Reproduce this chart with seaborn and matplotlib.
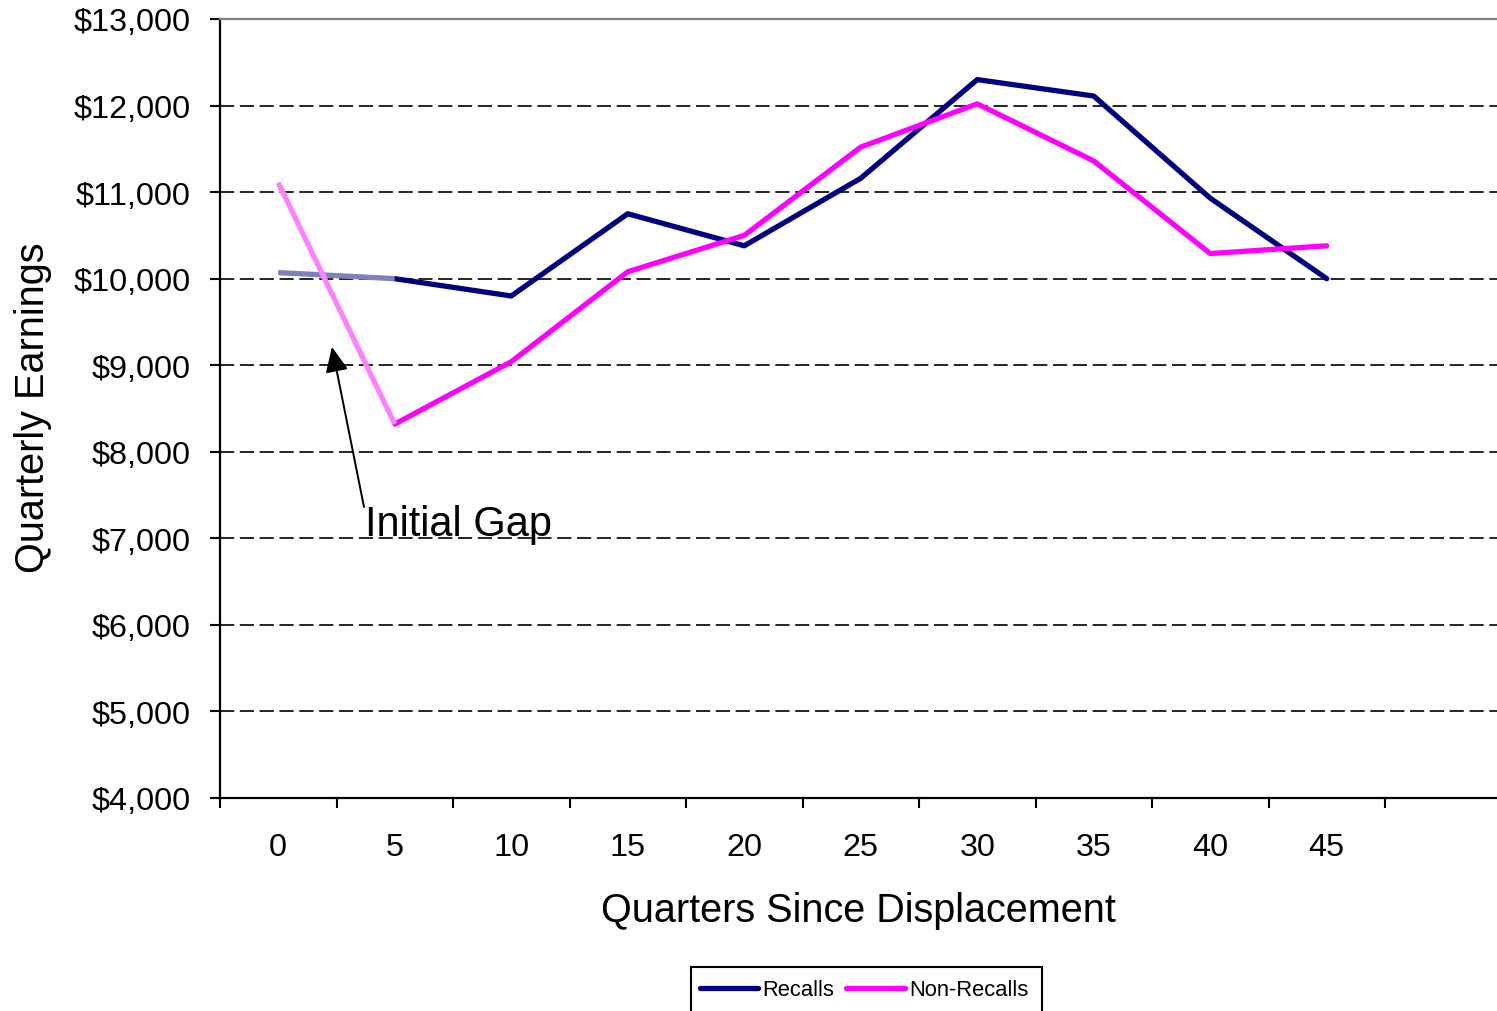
import numpy as np
import pandas as pd
import matplotlib
matplotlib.use("Agg")
import matplotlib.pyplot as plt
from matplotlib.patches import Rectangle
from matplotlib.ticker import FixedLocator, FuncFormatter
from matplotlib.transforms import Bbox, TransformedBbox
import seaborn as sns

# Quarterly earnings by quarters since displacement
quarters = [0, 5, 10, 15, 20, 25, 30, 35, 40, 45]
recalls = [10070, 10000, 9800, 10750, 10380, 11160, 12300, 12110, 10930, 10000]
non_recalls = [11110, 8320, 9040, 10080, 10500, 11520, 12020, 11360, 10290, 10380]
series_names = ["Recalls", "Non-Recalls"]
y_ticks = [4000, 5000, 6000, 7000, 8000, 9000, 10000, 11000, 12000, 13000]

dark = {"Recalls": "#000080", "Non-Recalls": "#FF00FF"}
light = {"Recalls": "#8080C0", "Non-Recalls": "#FF80FF"}

sns.set_style("white")
plt.rcParams["font.family"] = ["Liberation Sans", "DejaVu Sans"]
plt.rcParams["text.color"] = "black"
plt.rcParams["axes.labelcolor"] = "black"
plt.rcParams["xtick.color"] = "black"
plt.rcParams["ytick.color"] = "black"

pos = np.arange(len(quarters))
df = pd.DataFrame({
    "pos": np.concatenate([pos, pos]),
    "earnings": recalls + non_recalls,
    "group": ["Recalls"] * len(recalls) + ["Non-Recalls"] * len(non_recalls),
})

fig = plt.figure(figsize=(14.97, 10.12), dpi=100)
ax = fig.add_axes([220 / 1497, 1 - 799 / 1012, 1 - 220 / 1497, (799 - 20) / 1012])

LW = 3.8

# main lines from the second point on
sns.lineplot(data=df[df["pos"] >= 1], x="pos", y="earnings", hue="group",
             hue_order=series_names, palette=dark, linewidth=LW, ax=ax,
             sort=False, legend=True)
for ln in ax.get_lines():
    ln.set_solid_joinstyle("round")
    ln.set_solid_capstyle("round")

# first segment drawn in a lighter tint
for name, vals in zip(series_names, [recalls, non_recalls]):
    ax.plot(pos[:2], vals[:2], color=light[name], linewidth=LW,
            solid_capstyle="butt", zorder=2.2 if name == "Recalls" else 2.3)

handles, labels = ax.get_legend_handles_labels()
ax.get_legend().remove()

ax.set_xlim(-0.5, -0.5 + 1277 / 116.5)
ax.set_ylim(4000, 13000)

# x axis: labels at category centres, tick marks between categories
ax.xaxis.set_major_locator(FixedLocator(pos))
ax.set_xticklabels([str(q) for q in quarters])
ax.xaxis.set_minor_locator(FixedLocator(np.arange(len(quarters) + 1) - 0.5))
ax.tick_params(axis="x", which="major", length=0, pad=24.5, labelsize=23.3,
               labelcolor="black")
ax.tick_params(axis="x", which="minor", length=7.2, width=1.5, direction="out",
               color="black", bottom=True)

ax.yaxis.set_major_locator(FixedLocator(y_ticks))
ax.yaxis.set_major_formatter(FuncFormatter(lambda v, p: f"${v:,.0f}"))
ax.tick_params(axis="y", which="major", length=7.2, width=1.5, direction="out",
               pad=14, labelsize=23.3, labelcolor="black", color="black", left=True)

# dashed horizontal gridlines
ax.grid(axis="y", which="major", color="black", linestyle=(0, (8.5, 3.4)),
        linewidth=1.2)
ax.grid(axis="x", visible=False)
glines = ax.yaxis.get_gridlines()
glines[0].set_visible(False)
glines[-1].set_visible(False)
ax.set_axisbelow(True)

for side in ["left", "bottom"]:
    ax.spines[side].set_color("black")
    ax.spines[side].set_linewidth(1.6)
ax.spines["top"].set_color("#808080")
ax.spines["top"].set_linewidth(1.6)
ax.spines["right"].set_visible(False)

ax.set_xlabel("Quarters Since Displacement", fontsize=28.5, labelpad=21,
              color="black")
ylab = ax.set_ylabel("Quarterly Earnings", fontsize=28.5, color="black")
ax.yaxis.set_label_coords(-0.1316, 0.5026)
ylab.set_clip_box(TransformedBbox(Bbox([[0, 0], [1, 1 - 244 / 1012]]),
                                  fig.transFigure))
ylab.set_clip_on(True)

# annotation
ax.annotate("", xy=(0.461, 9211), xytext=(0.736, 7362),
            arrowprops=dict(arrowstyle="-|>,head_length=1.1,head_width=0.5",
                            color="black", lw=1.4, mutation_scale=14,
                            shrinkA=0, shrinkB=0))
ax.text(0.745, 7040, "Initial Gap", fontsize=30, ha="left", va="baseline",
        color="black")

# legend, framed box running off the bottom edge
leg = fig.legend(handles, labels, loc="center",
                 bbox_to_anchor=(864 / 1497, 1 - 991 / 1012), ncol=2,
                 fontsize=15.8, frameon=False, borderpad=0.2,
                 handlelength=2.65, handletextpad=0.2, columnspacing=0.55,
                 borderaxespad=0)
for h in leg.get_lines():
    h.set_linewidth(LW)
    h.set_solid_capstyle("round")
fig.patches.append(Rectangle((691 / 1497, -0.02), (1042 - 691) / 1497,
                             1 - 968 / 1012 + 0.02, transform=fig.transFigure,
                             facecolor="none", edgecolor="black",
                             linewidth=1.5, zorder=5))

fig.savefig("out.png", dpi=100)
